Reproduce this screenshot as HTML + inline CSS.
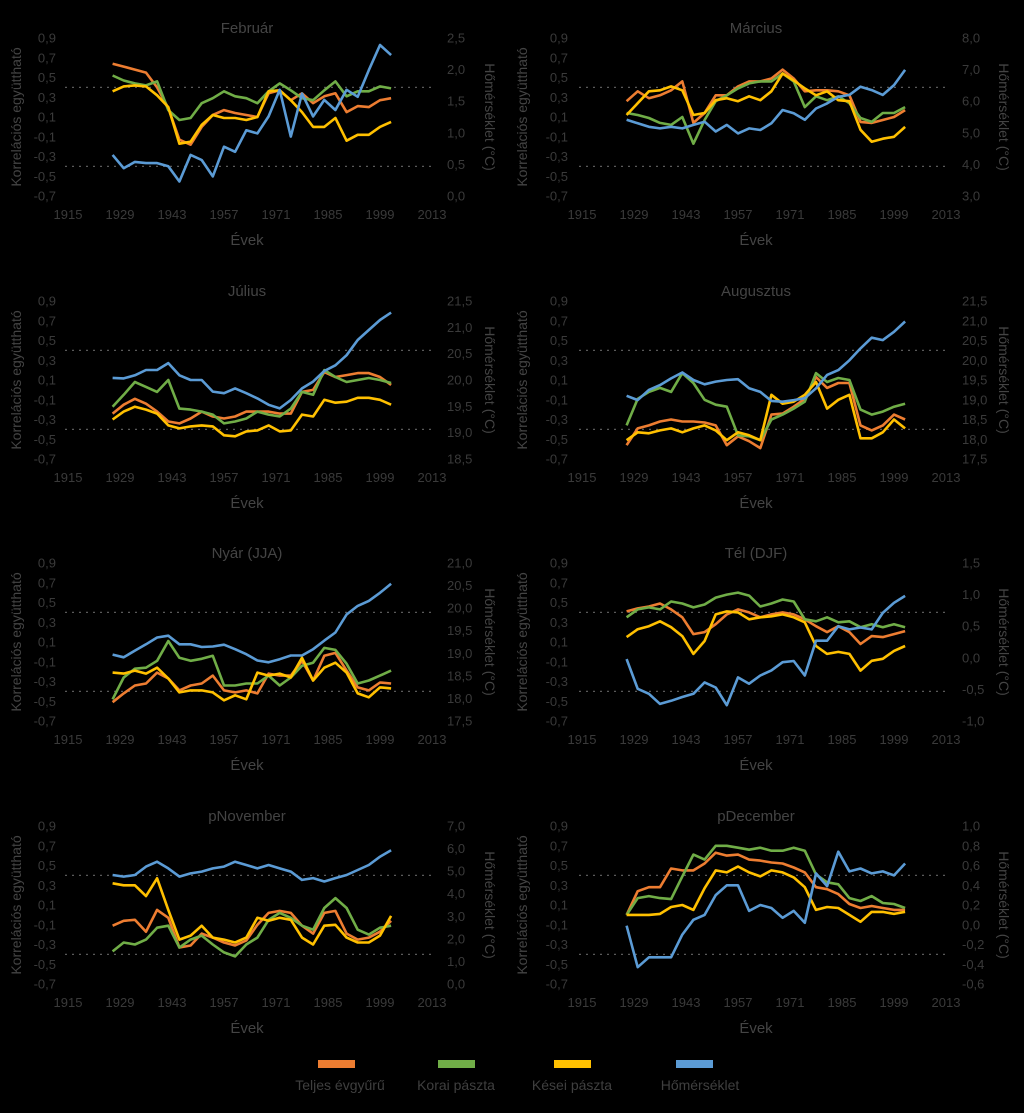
<!DOCTYPE html>
<html><head><meta charset="utf-8">
<style>
html,body{margin:0;padding:0;background:#000;}
svg{display:block;font-family:"Liberation Sans",Arial,sans-serif;}
</style></head>
<body>
<svg id="chart" width="1024" height="1113" viewBox="0 0 1024 1113" xmlns="http://www.w3.org/2000/svg">
<rect width="1024" height="1113" fill="#000"/>
<g id="panels"></g>
<g>
  <rect x="318" y="1060" width="37" height="8" fill="#ED7D31"/>
  <rect x="438" y="1060" width="37" height="8" fill="#70AD47"/>
  <rect x="554" y="1060" width="37" height="8" fill="#FFC000"/>
  <rect x="676" y="1060" width="37" height="8" fill="#5B9BD5"/>
  <text x="340" y="1090" fill="#3f3f3f" font-size="14" text-anchor="middle">Teljes évgyűrű</text>
  <text x="456" y="1090" fill="#3f3f3f" font-size="14" text-anchor="middle">Korai pászta</text>
  <text x="572" y="1090" fill="#3f3f3f" font-size="14" text-anchor="middle">Kései pászta</text>
  <text x="700" y="1090" fill="#3f3f3f" font-size="14" text-anchor="middle">Hőmérséklet</text>
</g>
</svg>
<script>
const years = [1927,1930,1933,1936,1939,1942,1945,1948,1951,1954,1957,1960,1963,1966,1969,1972,1975,1978,1981,1984,1987,1990,1993,1996,1999,2002];
const xTicks = [1915,1929,1943,1957,1971,1985,1999,2013];
const corrTicks = [0.9,0.7,0.5,0.3,0.1,-0.1,-0.3,-0.5,-0.7];
const sigLevels = [0.4,-0.4];
const panelTitles = ["Február","Március","Július","Augusztus","Nyár (JJA)","Tél (DJF)","pNovember","pDecember"];
const tempMin = [0.0,3.0,18.5,17.5,17.5,-1.0,0.0,-0.6];
const tempMax = [2.5,8.0,21.5,21.5,21.0,1.5,7.0,1.0];
const tempStep = [0.5,1.0,0.5,0.5,0.5,0.5,1.0,0.2];

const teljes = [
 [.64,.61,.58,.55,.40,.19,-.13,-.18,0,.12,.17,.14,.12,.10,.34,.37,.27,.34,.24,.31,.34,.15,.21,.20,.27,.29],
 [.26,.36,.29,.32,.37,.46,.04,.14,.32,.32,.41,.46,.46,.49,.58,.49,.36,.37,.37,.36,.32,.05,.04,.07,.10,.17],
 [-.24,-.15,-.09,-.14,-.22,-.32,-.34,-.29,-.22,-.27,-.29,-.27,-.22,-.22,-.22,-.24,-.24,-.02,0,.18,.13,.15,.17,.17,.13,.05],
 [-.56,-.39,-.36,-.32,-.30,-.32,-.32,-.33,-.36,-.56,-.47,-.52,-.59,-.25,-.24,-.17,-.09,.13,.02,.07,.07,-.36,-.41,-.36,-.25,-.30],
 [-.51,-.42,-.34,-.32,-.21,-.27,-.39,-.34,-.32,-.24,-.39,-.41,-.39,-.42,-.22,-.24,-.24,-.09,-.29,-.04,-.01,-.19,-.36,-.39,-.31,-.32],
 [.41,.44,.46,.49,.43,.35,.18,.20,.28,.38,.43,.40,.35,.38,.40,.38,.33,.26,.20,.26,.20,.08,.16,.15,.18,.21],
 [-.11,-.06,-.05,-.17,.05,-.03,-.33,-.31,-.19,-.23,-.28,-.31,-.26,-.10,.02,.04,.02,-.11,-.19,.02,.04,-.19,-.25,-.23,-.17,-.06],
 [0,.24,.28,.28,.47,.45,.45,.52,.63,.60,.61,.56,.55,.53,.52,.48,.43,.28,.26,.21,.11,.07,.09,.07,.05,.05]
];
const korai = [
 [.52,.47,.44,.42,.46,.17,.07,.09,.24,.29,.36,.31,.29,.24,.36,.44,.37,.29,.27,.37,.46,.31,.36,.36,.41,.39],
 [.14,.12,.09,.04,.02,.10,-.17,.07,.26,.32,.39,.44,.46,.46,.54,.46,.20,.31,.27,.31,.24,.09,.05,.14,.14,.20],
 [-.17,-.05,.08,.03,-.02,.10,-.19,-.20,-.22,-.25,-.34,-.32,-.29,-.22,-.25,-.27,-.19,-.02,-.05,.20,.13,.08,.10,.12,.10,.07],
 [-.36,-.09,-.02,.02,-.02,.17,.07,-.10,-.15,-.17,-.46,-.47,-.51,-.30,-.25,-.19,-.12,.17,.08,.12,.10,-.20,-.25,-.22,-.17,-.14],
 [-.48,-.26,-.17,-.16,-.09,.11,-.06,-.09,-.07,-.04,-.34,-.34,-.32,-.32,-.24,-.34,-.26,-.14,-.11,.04,.02,-.12,-.32,-.29,-.24,-.19],
 [.35,.43,.45,.43,.51,.49,.45,.48,.55,.58,.60,.57,.46,.49,.53,.51,.33,.31,.35,.30,.31,.25,.28,.25,.28,.25],
 [-.37,-.28,-.30,-.25,-.13,-.11,-.33,-.25,-.21,-.30,-.38,-.42,-.30,-.23,-.05,.02,-.03,-.11,-.15,.07,.17,.07,-.15,-.20,-.13,-.11],
 [0,.17,.19,.17,.16,.39,.61,.56,.70,.70,.68,.66,.68,.65,.65,.68,.65,.41,.33,.31,.17,.14,.19,.12,.11,.07]
];
const kesei = [
 [.36,.41,.42,.41,.32,.20,-.17,-.15,.02,.12,.09,.09,.07,.10,.36,.37,.27,.15,0,0,.09,-.14,-.08,-.08,0,.05],
 [.12,.24,.36,.37,.41,.37,.12,.14,.27,.29,.26,.31,.27,.36,.54,.47,.39,.32,.36,.27,.26,-.03,-.15,-.12,-.10,0],
 [-.30,-.22,-.17,-.20,-.24,-.36,-.39,-.37,-.36,-.37,-.46,-.47,-.42,-.41,-.36,-.42,-.41,-.25,-.27,-.10,-.13,-.12,-.08,-.08,-.10,-.15],
 [-.51,-.43,-.44,-.41,-.39,-.43,-.39,-.36,-.41,-.51,-.43,-.46,-.51,-.05,-.14,-.12,-.05,.08,-.19,-.10,-.05,-.49,-.49,-.43,-.30,-.39],
 [-.21,-.22,-.19,-.22,-.16,-.27,-.41,-.39,-.39,-.41,-.49,-.44,-.48,-.21,-.24,-.22,-.26,-.06,-.29,-.16,-.11,-.21,-.42,-.46,-.36,-.37],
 [.15,.23,.26,.31,.25,.16,-.02,.11,.38,.41,.40,.33,.35,.36,.38,.35,.30,.06,-.02,0,-.02,-.19,-.09,-.07,.01,.06],
 [.32,.30,.30,.19,.37,.05,-.25,-.21,-.11,-.23,-.25,-.28,-.23,-.03,-.06,-.03,-.05,-.23,-.30,-.11,-.10,-.23,-.28,-.28,-.21,-.01],
 [0,0,0,.01,.08,.10,.05,.27,.45,.43,.49,.43,.39,.45,.43,.38,.28,.05,.08,.07,0,-.07,.03,.03,.01,.03]
];
const homerseklet = [
 [.65,.44,.54,.52,.52,.47,.23,.65,.57,.31,.78,.70,1.04,.99,1.26,1.68,.94,1.62,1.26,1.52,1.36,1.68,1.57,1.99,2.39,2.23],
 [5.41,5.30,5.19,5.14,5.19,5.14,5.25,5.35,5.04,5.25,4.98,5.14,5.09,5.30,5.72,5.62,5.41,5.77,5.93,6.14,6.20,6.46,6.35,6.20,6.51,6.99],
 [20.04,20.03,20.09,20.19,20.19,20.32,20.09,20.0,20.0,19.78,19.75,19.84,19.75,19.65,19.53,19.46,19.62,19.84,19.97,20.17,20.28,20.47,20.76,20.95,21.14,21.28],
 [19.1,18.99,19.25,19.37,19.54,19.69,19.5,19.39,19.46,19.5,19.52,19.29,19.2,18.97,18.95,18.99,19.04,19.29,19.63,19.75,20.0,20.3,20.57,20.51,20.72,20.98],
 [18.97,18.91,19.06,19.2,19.35,19.39,19.2,19.2,19.14,19.15,19.19,19.09,18.98,18.84,18.8,18.87,18.95,18.95,19.09,19.28,19.46,19.86,20.05,20.16,20.34,20.54],
 [-.02,-.49,-.57,-.73,-.68,-.62,-.57,-.39,-.47,-.75,-.31,-.41,-.28,-.2,-.07,-.05,-.28,.27,.27,.5,.45,.48,.45,.71,.87,.98],
 [4.83,4.76,4.83,5.2,5.42,5.12,4.76,4.9,4.98,5.12,5.2,5.42,5.27,5.12,5.27,5.12,4.98,4.61,4.69,4.54,4.69,4.83,5.05,5.27,5.64,5.93],
 [-.01,-.43,-.33,-.33,-.33,-.1,.05,.1,.3,.4,.4,.14,.2,.17,.07,.14,.02,.52,.39,.74,.54,.57,.52,.54,.5,.62]
];

const NS = "http://www.w3.org/2000/svg";
const root = document.getElementById('panels');
const rowTops = [38,301,563,826];
const PH = 158, PXY = 3.714;
const TXT = "#3a3a3a";
const colors = ["#ED7D31","#70AD47","#FFC000","#5B9BD5"];

function mk(tag, attrs, parent){
  const e = document.createElementNS(NS, tag);
  for (const k in attrs) e.setAttribute(k, attrs[k]);
  parent.appendChild(e);
  return e;
}
function fmt(v, step){
  const d = step < 0.5 ? 1 : 1;
  return v.toFixed(d).replace('.', ',').replace('-0,0','0,0');
}

panelTitles.forEach((title, p) => {
  const col = p % 2, row = Math.floor(p / 2);
  const top = rowTops[row];
  const x0 = col === 0 ? 68 : 582;      // x position of year 1915
  const xs = y => x0 + (y - 1915) * PXY;
  const yc = v => top + (0.9 - v) / 1.6 * PH;
  const yt = v => top + (tempMax[p] - v) / (tempMax[p] - tempMin[p]) * PH;
  const leftLab = col === 0 ? 56 : 568;
  const rightLab = col === 0 ? 447 : 962;
  const cx = col === 0 ? 247 : 756;

  const g = mk('g', {}, root);
  
  

  const t = mk('text', {x: cx, y: top - 5, fill: "#444", 'font-size': 15, 'text-anchor': 'middle'}, g);
  t.textContent = title;
  
  

  // significance lines
  sigLevels.forEach(s => {
    const l = mk('line', {x1: xs(1915) - 3, x2: xs(2013) + 3, y1: yc(s), y2: yc(s), stroke: '#5a5a5a', 'stroke-width': 1.2, 'stroke-dasharray': '2,5'}, g);
    
    
  });

  // left axis ticks
  corrTicks.forEach(v => {
    const tx = mk('text', {x: leftLab, y: yc(v) + 4.5, fill: TXT, 'font-size': 13, 'text-anchor': 'end'}, g);
    tx.textContent = v.toFixed(1).replace('.', ',');
    
    
  });
  // right axis ticks
  const n = Math.round((tempMax[p] - tempMin[p]) / tempStep[p]);
  for (let i = 0; i <= n; i++) {
    const v = tempMin[p] + i * tempStep[p];
    const tx = mk('text', {x: rightLab, y: yt(v) + 4.5, fill: TXT, 'font-size': 13, 'text-anchor': 'start'}, g);
    tx.textContent = fmt(v, tempStep[p]);
    
    
  }
  // x ticks
  xTicks.forEach(yv => {
    const tx = mk('text', {x: xs(yv), y: top + 181, fill: TXT, 'font-size': 13, 'text-anchor': 'middle'}, g);
    tx.textContent = yv;
    
    
  });
  const xt = mk('text', {x: cx, y: top + 207, fill: "#444", 'font-size': 15, 'text-anchor': 'middle'}, g);
  xt.textContent = 'Évek';
  
  

  const ylx = col === 0 ? 21 : 527;
  const yl = mk('text', {x: ylx, y: top + 79, fill: "#444", 'font-size': 14, 'text-anchor': 'middle', transform: `rotate(-90 ${ylx} ${top + 79})`}, g);
  yl.textContent = 'Korrelációs együttható';
  
  
  const yrx = col === 0 ? 485 : 999;
  const yr = mk('text', {x: yrx, y: top + 79, fill: "#444", 'font-size': 14, 'text-anchor': 'middle', transform: `rotate(90 ${yrx} ${top + 79})`}, g);
  yr.textContent = 'Hőmérséklet (°C)';
  
  

  // series
  const series = [teljes[p], korai[p], kesei[p]];
  const sNames = ['teljes-evgyuru-line','korai-paszta-line','kesei-paszta-line'];
  series.forEach((arr, si) => {
    const d = arr.map((v, i) => (i ? 'L' : 'M') + xs(years[i]).toFixed(1) + ',' + yc(v).toFixed(1)).join('');
    const path = mk('path', {d: d, fill: 'none', stroke: colors[si], 'stroke-width': 2.6, 'stroke-linejoin': 'round'}, g);
    
    
  });
  const tArr = homerseklet[p];
  const dT = tArr.map((v, i) => (i ? 'L' : 'M') + xs(years[i]).toFixed(1) + ',' + yt(v).toFixed(1)).join('');
  const tp = mk('path', {d: dT, fill: 'none', stroke: colors[3], 'stroke-width': 2.6, 'stroke-linejoin': 'round'}, g);
  
  
});
</script>
</body></html>
